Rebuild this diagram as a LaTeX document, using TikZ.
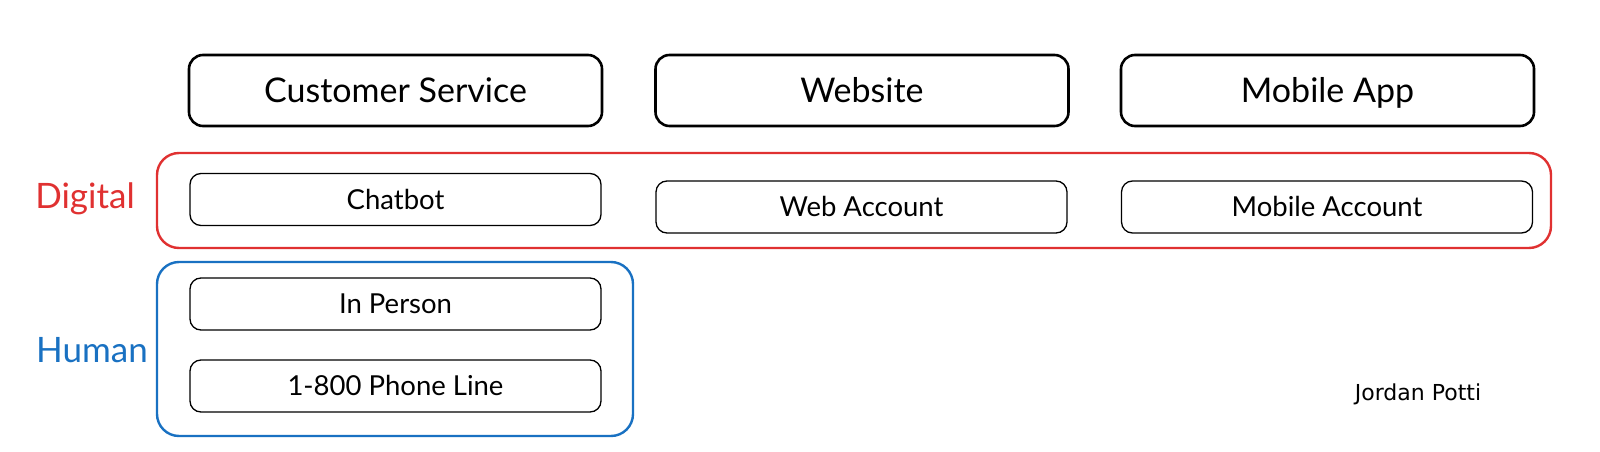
\documentclass[tikz,border=0pt]{standalone}
\usepackage{fontspec}
\setmainfont{Lato}
\newfontfamily\handfont{DejaVu Sans}
\usetikzlibrary{positioning}
\definecolor{exred}{HTML}{E03131}
\definecolor{exblue}{HTML}{1971C2}
\begin{document}
\begin{tikzpicture}[x=1pt,y=-1pt,
  titlebox/.style={draw=black, line width=2.6pt, rounded corners=14pt, minimum width=413pt, minimum height=71pt, font=\fontsize{34}{40}\selectfont, inner sep=0pt, text height=27.5pt, text depth=3.8pt},
  itembox/.style={draw=black, line width=1.3pt, rounded corners=11pt, minimum width=411pt, minimum height=52pt, font=\fontsize{27.5}{32}\selectfont, inner sep=0pt, text height=22.3pt, text depth=3pt},
  groupbox/.style={line width=2.4pt, rounded corners=22pt, inner sep=0pt},
  grouplabel/.style={font=\fontsize{35}{40}\selectfont, inner sep=0pt, text height=28.2pt, text depth=4pt},
]
\useasboundingbox (0,0) rectangle (1600,452);
\fill[white] (0,0) rectangle (1600,452);
\node[titlebox] (cs) at (395.5,90.5) {Customer Service};
\node[titlebox] (web) at (862,90.5) {Website};
\node[titlebox] (app) at (1327.5,90.5) {Mobile App};
\node[groupbox, draw=exred, minimum width=1394pt, minimum height=95pt] (digital) at (854,200.5) {};
\node[itembox] (chat) at (395.5,199.5) {Chatbot};
\node[itembox] (webacc) at (861.5,207) {Web Account};
\node[itembox] (mobacc) at (1327,207) {Mobile Account};
\node[groupbox, draw=exblue, minimum width=476pt, minimum height=174pt] (human) at (395,349) {};
\node[itembox] (inperson) at (395.5,304) {In Person};
\node[itembox] (phone) at (395.5,386) {1-800 Phone Line};
\node[grouplabel, text=exred] (dlabel) at (85,196) {Digital};
\node[grouplabel, text=exblue] (hlabel) at (92,350) {Human};
\node[font=\handfont\fontsize{22}{26}\selectfont, inner sep=0pt] (author) at (1418,394) {Jordan Potti};
\end{tikzpicture}
\end{document}
